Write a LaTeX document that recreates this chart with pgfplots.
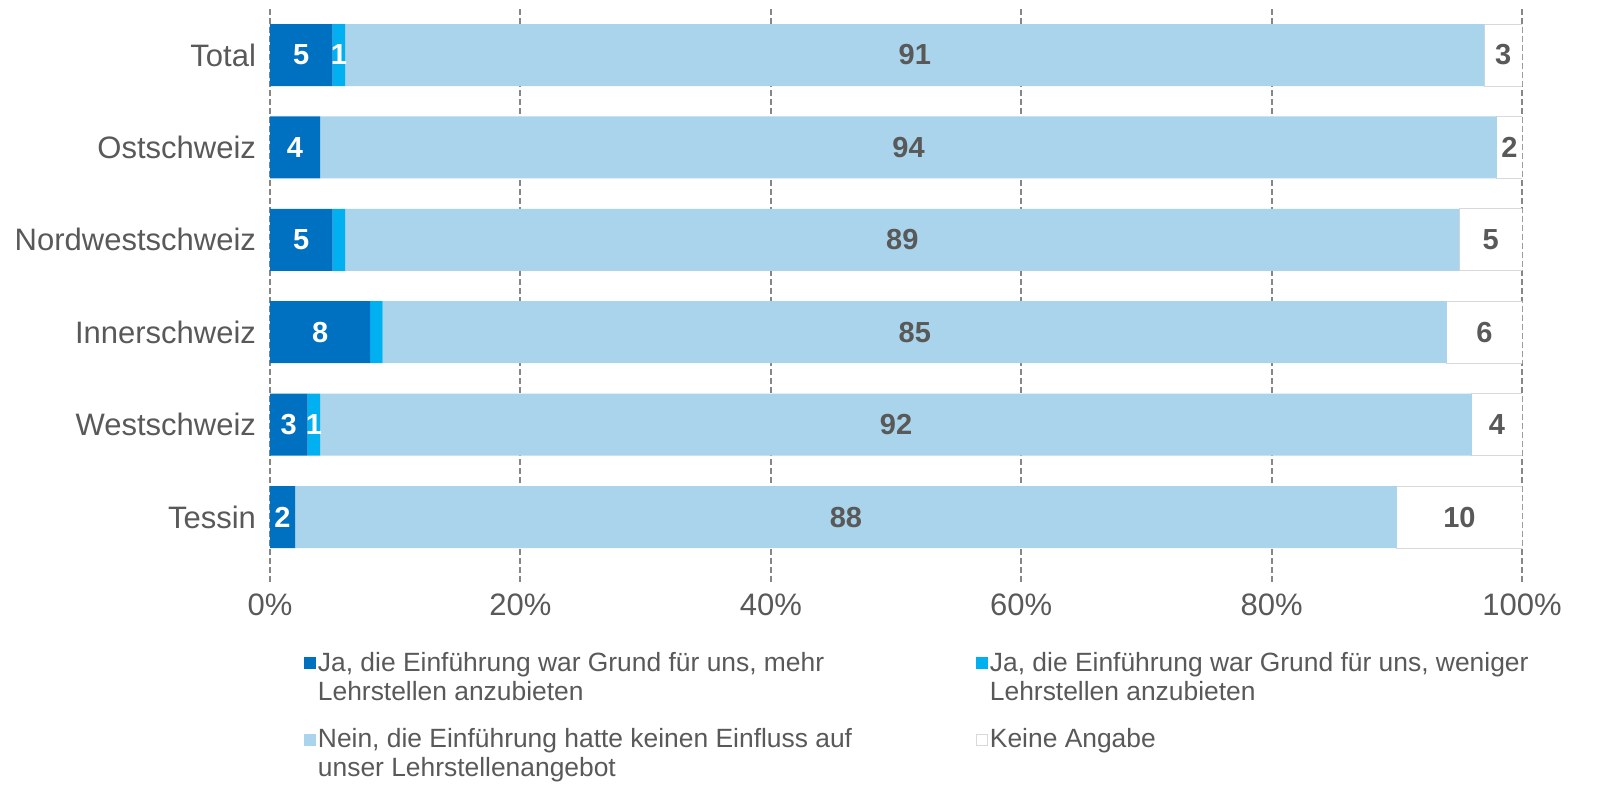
\documentclass[border=0pt]{standalone}
\usepackage{fontspec}
\setmainfont{Liberation Sans}
\usepackage{pgfplots}
\usepackage{pgfplotstable}
\pgfplotsset{compat=1.18}

\definecolor{dunkel}{HTML}{0070C0}
\definecolor{cyanb}{HTML}{00B0F0}
\definecolor{hell}{HTML}{A9D4EB}
\definecolor{textgrau}{HTML}{595959}
\definecolor{gitter}{HTML}{868686}
\definecolor{rand}{HTML}{D9D9D9}

% y: 5 = Total ... 0 = Tessin
\pgfplotstableread{
y mehr weniger nein keine
5 5 1 91 3
4 4 0 94 2
3 5 1 89 5
2 8 1 85 6
1 3 1 92 4
0 2 0 88 10
}\daten

% labels, at the middle of each segment
\pgfplotstableread{
x y lab
2.5 5 5
5.5 5 1
2 4 4
2.5 3 5
4 2 8
1.5 1 3
3.5 1 1
1 0 2
}\weiss

\pgfplotstableread{
x y lab
51.5 5 91
98.5 5 3
51 4 94
99 4 2
50.5 3 89
97.5 3 5
51.5 2 85
97 2 6
50 1 92
98 1 4
46 0 88
95 0 10
}\grau

\pgfplotsset{rahmen/.style={
  width=626pt, height=287pt, scale only axis,
  xmin=0, xmax=100, ymin=-0.703, ymax=5.509,
}}

\newcommand{\leg}[1]{\parbox[t]{328pt}{\raggedright #1}}

\begin{document}
\begin{tikzpicture}
\begin{axis}[rahmen, name=ax,
  xbar stacked, bar width=31pt,
  axis line style={draw=none},
  major tick length=0pt,
  xtick={0,20,...,100},
  xticklabels={0\%,20\%,40\%,60\%,80\%,100\%},
  ytick={0,...,5},
  yticklabels={Tessin,Westschweiz,Innerschweiz,Nordwestschweiz,Ostschweiz,Total},
  tick label style={font=\fontsize{15.5}{18}\selectfont, text=textgrau},
  yticklabel style={xshift=-3.5pt},
  xticklabel style={yshift=-2.5pt},
  xmajorgrids,
  grid style={gitter, line width=1pt, dash pattern=on 3pt off 1.5pt},
  legend columns=2,
  legend cell align=left,
  legend style={draw=none, at={(0.022,-0.108)}, anchor=north west,
    font=\fontsize{13.2}{14.5}\selectfont, text=textgrau,
    row sep=23pt, nodes={inner xsep=1pt}},
]
\addplot[fill=dunkel, draw=none,
  legend image code/.code={\fill[dunkel] (0pt,-3pt) rectangle (6pt,3pt);}]
  table[x=mehr, y=y]{\daten};
\addlegendentry{\leg{Ja, die Einführung war Grund für uns, mehr\\Lehrstellen anzubieten}}
\addplot[fill=cyanb, draw=none,
  legend image code/.code={\fill[cyanb] (0pt,-3pt) rectangle (6pt,3pt);}]
  table[x=weniger, y=y]{\daten};
\addlegendentry{\leg{Ja, die Einführung war Grund für uns, weniger\\Lehrstellen anzubieten}}
\addplot[fill=hell, draw=none,
  legend image code/.code={\fill[hell] (0pt,-3pt) rectangle (6pt,3pt);}]
  table[x=nein, y=y]{\daten};
\addlegendentry{\leg{Nein, die Einführung hatte keinen Einfluss auf\\unser Lehrstellenangebot}}
\addplot[fill=white, draw=rand, line width=0.5pt,
  legend image code/.code={\draw[rand, fill=white, line width=0.5pt] (0.25pt,-2.75pt) rectangle (5.75pt,2.75pt);}]
  table[x=keine, y=y]{\daten};
\addlegendentry{\leg{Keine Angabe}}
\end{axis}

\begin{axis}[rahmen, at={(ax.south west)}, anchor=south west, hide axis,
  every node near coord/.append style={anchor=center,
    font=\fontsize{14.5}{17}\selectfont\bfseries},
]
\addplot[draw=none, mark=none, nodes near coords, point meta=explicit symbolic,
  every node near coord/.append style={text=white, anchor=center}]
  table[x=x, y=y, meta=lab]{\weiss};
\addplot[draw=none, mark=none, nodes near coords, point meta=explicit symbolic,
  every node near coord/.append style={text=textgrau, anchor=center}]
  table[x=x, y=y, meta=lab]{\grau};
\end{axis}

\pgfresetboundingbox
\path ([xshift=-135pt, yshift=-111.5pt]ax.south west)
  rectangle ([xshift=50.5pt, yshift=4pt]ax.north east);
\end{tikzpicture}
\end{document}
